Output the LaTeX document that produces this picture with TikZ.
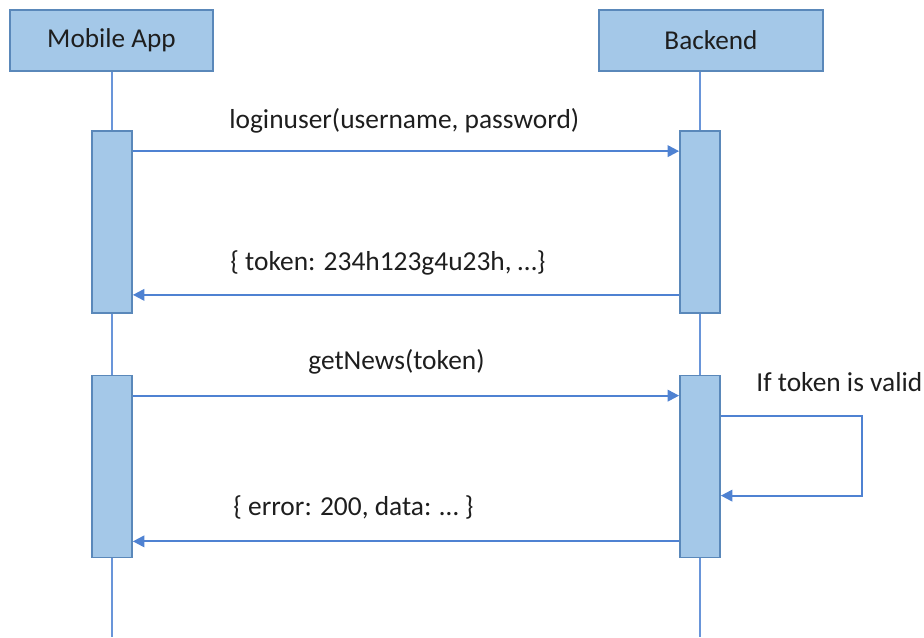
\documentclass[tikz,border=0pt]{standalone}
\usepackage{fontspec}
\setmainfont{Carlito}
\usepackage{xcolor}
\usetikzlibrary{arrows.meta, positioning, calc}
\definecolor{boxfill}{HTML}{A4C8E8}
\definecolor{boxline}{HTML}{5A88BA}
\definecolor{wire}{HTML}{4F82D2}
\definecolor{ink}{HTML}{1E1E1E}

\begin{document}
\begin{tikzpicture}[x=0.02cm, y=-0.02cm,
    actor/.style={draw=boxline, fill=boxfill, line width=1pt, minimum height=1.22cm, inner sep=0pt, text=ink, font=\fontsize{15.5}{18}\selectfont},
    act/.style={draw=boxline, fill=boxfill, line width=1pt, minimum width=0.8cm, minimum height=3.64cm, inner sep=0pt},
    life/.style={draw=wire!85, line width=1.6pt},
    msg/.style={draw=wire, line width=1.2pt, -{Triangle[length=6.5pt, width=6.5pt]}},
    lbl/.style={anchor=west, inner sep=0pt, text=ink, font=\fontsize{15.6}{18}\selectfont}]
    \useasboundingbox (0,0) rectangle (924,637);
    % participants
    \node[actor, minimum width=4.06cm] (app) at (111.5,40.5) {Mobile App};
    \node[actor, minimum width=4.48cm] (backend) at (711,40.5) {Backend};
    \coordinate (append) at (112,637);
    \coordinate (backendend) at (700,637);
    \draw[life] (app.south -| append) -- (append);
    \draw[life] (backend.south -| backendend) -- (backendend);
    % activations
    \node[act] (app1) at (112,222) {};
    \node[act] (backend1) at (700,222) {};
    \node[act] (app2) at (112,466.5) {};
    \node[act] (backend2) at (700,466.5) {};
    % login
    \draw[msg] ([yshift=-0.42cm]app1.north east) -- ([yshift=-0.42cm]backend1.north west);
    \node[lbl] (login) at (229,121) {loginuser(username, password)};
    \draw[msg] ([yshift=0.38cm]backend1.south west) -- ([yshift=0.38cm]app1.south east);
    \node[lbl] (token) at (230,263) {\{ token: 234h123g4u23h, …\}};
    % news
    \draw[msg] ([yshift=-0.42cm]app2.north east) -- ([yshift=-0.42cm]backend2.north west);
    \node[lbl] (news) at (308,362) {getNews(token)};
    \coordinate (loop) at (862,457);
    \draw[msg] ([yshift=-0.82cm]backend2.north east) -| (loop)
      |- ([yshift=-2.42cm]backend2.north east);
    \node[lbl] (valid) at (756,382) {If token is valid};
    \draw[msg] ([yshift=0.34cm]backend2.south west) -- ([yshift=0.34cm]app2.south east);
    \node[lbl] (data) at (233,507) {\{ error: 200, data: … \}};
\end{tikzpicture}
\end{document}
